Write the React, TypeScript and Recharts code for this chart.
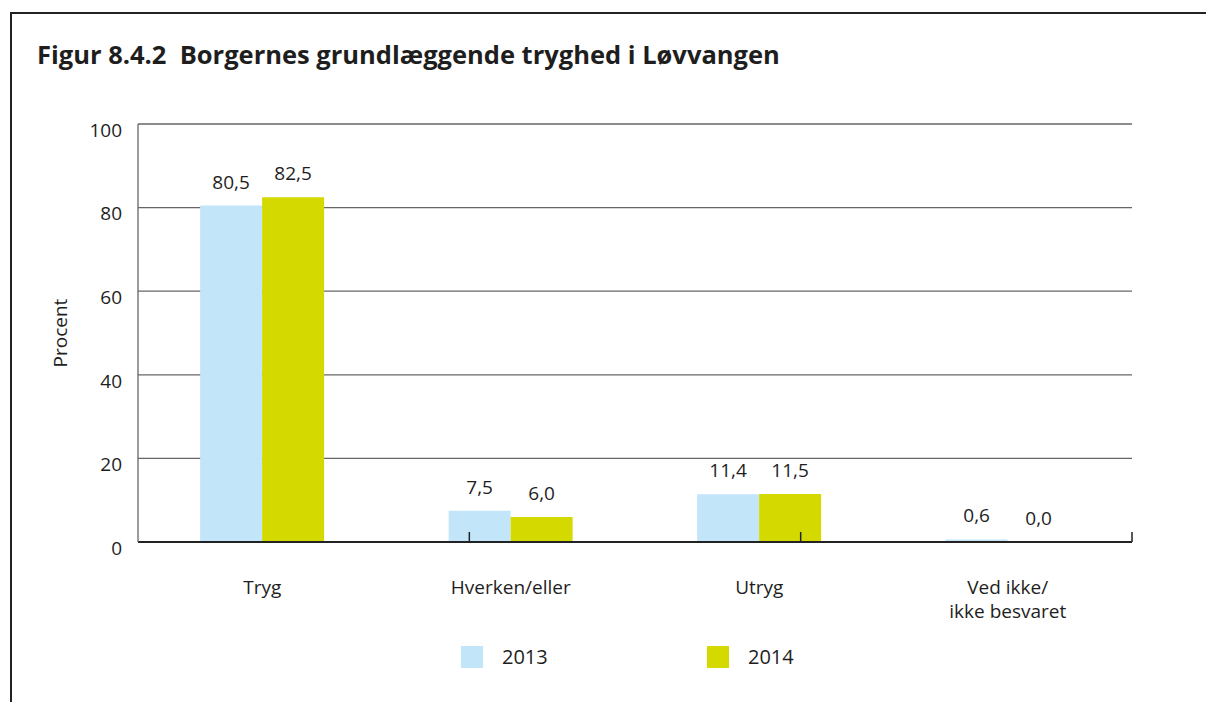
import React from "react";
import {
  BarChart,
  Bar,
  CartesianGrid,
  XAxis,
  YAxis,
  LabelList,
  ReferenceLine,
} from "recharts";

const categories = ["Tryg", "Hverken/eller", "Utryg", "Ved ikke/\nikke besvaret"];
const values2013 = [80.5, 7.5, 11.4, 0.6];
const values2014 = [82.5, 6.0, 11.5, 0.0];
const yTicks = [0, 20, 40, 60, 80, 100];
const boundaries = [1, 2, 3, 4];

const data = categories.map((name, i) => ({
  name,
  y2013: values2013[i],
  y2014: values2014[i],
}));

const color2013 = "#c3e5fa";
const color2014 = "#d4d900";
const textColor = "#1e1e1e";
const font = "'Open Sans', sans-serif";

const fmt = (v: any) => Number(v).toFixed(1).replace(".", ",");

// zero bars still need their label, so give them a tiny invisible height
const minSize = (v: any) => (Number(v) === 0 ? 0.01 : 0);

const CategoryTick = (props: any) => {
  const { x, y, payload } = props;
  const lines = String(payload.value).split("\n");
  return (
    <text x={x} y={y} textAnchor="middle" fill={textColor} fontSize={19} fontFamily={font}>
      {lines.map((l, i) => (
        <tspan key={i} x={x} dy={i === 0 ? 50 : 24}>
          {l}
        </tspan>
      ))}
    </text>
  );
};

const App = () => {
  return (
    <div
      style={{
        position: "absolute",
        left: 0,
        top: 0,
        width: 1206,
        height: 702,
        background: "#fff",
        fontFamily: font,
        color: textColor,
      }}
    >
      {/* frame lines */}
      <div style={{ position: "absolute", left: 10, top: 12, width: 1196, height: 2, background: "#222" }} />
      <div style={{ position: "absolute", left: 10, top: 12, width: 2, height: 690, background: "#222" }} />

      <div
        style={{
          position: "absolute",
          left: 37,
          top: 42,
          fontSize: 25.5,
          lineHeight: 1,
          fontWeight: 700,
          whiteSpace: "nowrap",
        }}
      >
        Figur 8.4.2&nbsp; Borgernes grundlæggende tryghed i Løvvangen
      </div>

      <div style={{ position: "absolute", left: 0, top: 0 }}>
        <BarChart
          width={1206}
          height={702}
          data={data}
          margin={{ top: 124, right: 74, left: 38, bottom: 100 }}
          barCategoryGap="25%"
          barGap={0}
        >
          <CartesianGrid vertical={false} stroke="#666" strokeWidth={1.3} />
          <XAxis
            dataKey="name"
            height={60}
            interval={0}
            tickLine={false}
            tickSize={0}
            tick={<CategoryTick />}
            axisLine={{ stroke: "#222", strokeWidth: 2 }}
          />
          <XAxis xAxisId="b" type="number" domain={[0, 4]} hide />
          <YAxis
            width={100}
            domain={[0, 100]}
            ticks={yTicks}
            interval={0}
            tickLine={false}
            tickSize={0}
            tickMargin={16}
            axisLine={{ stroke: "#666", strokeWidth: 1.3 }}
            tick={{ fontSize: 19, fill: textColor, fontFamily: font, dy: 6 }}
            label={{
              value: "Procent",
              angle: -90,
              position: "insideLeft",
              offset: 22,
              style: { textAnchor: "middle", fontSize: 19, fill: textColor, fontFamily: font },
            }}
          />
          {boundaries.map((b) => (
            <ReferenceLine
              key={b}
              xAxisId="b"
              segment={[
                { x: b, y: 0 },
                { x: b, y: 2.4 },
              ]}
              stroke="#222"
              strokeWidth={1.5}
            />
          ))}
          <Bar dataKey="y2013" fill={color2013} minPointSize={minSize} isAnimationActive={false}>
            <LabelList
              dataKey="y2013"
              position="top"
              offset={17}
              formatter={fmt}
              style={{ fontSize: 19, fill: textColor, fontFamily: font }}
            />
          </Bar>
          <Bar dataKey="y2014" fill={color2014} minPointSize={minSize} isAnimationActive={false}>
            <LabelList
              dataKey="y2014"
              position="top"
              offset={17}
              formatter={fmt}
              style={{ fontSize: 19, fill: textColor, fontFamily: font }}
            />
          </Bar>
        </BarChart>
      </div>

      {/* legend */}
      <div style={{ position: "absolute", left: 461, top: 646, width: 22, height: 22, background: color2013 }} />
      <div style={{ position: "absolute", left: 502, top: 645, fontSize: 20, lineHeight: "24px" }}>2013</div>
      <div style={{ position: "absolute", left: 707, top: 646, width: 22, height: 22, background: color2014 }} />
      <div style={{ position: "absolute", left: 748, top: 645, fontSize: 20, lineHeight: "24px" }}>2014</div>
    </div>
  );
};

export default App;
